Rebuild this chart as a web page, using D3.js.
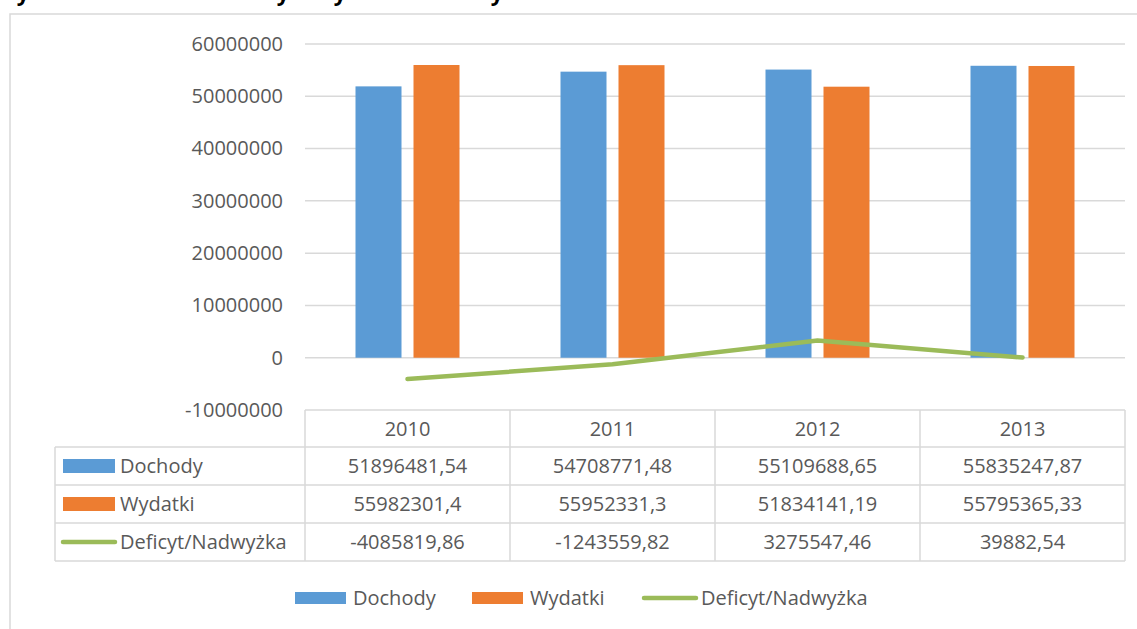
<!DOCTYPE html>
<html>
<head>
<meta charset="utf-8">
<script src="https://cdn.jsdelivr.net/npm/d3@7"></script>
<style>
  body { margin: 0; background: #fff; }
  svg text { font-family: "Open Sans", sans-serif; fill: #595959; }
</style>
</head>
<body>
<svg id="chart" width="1137" height="629"></svg>
<script>
// dane z wykresu
var years = ["2010", "2011", "2012", "2013"];
var dochody = [51896481.54, 54708771.48, 55109688.65, 55835247.87];
var wydatki = [55982301.4, 55952331.3, 51834141.19, 55795365.33];
var deficyt = [-4085819.86, -1243559.82, 3275547.46, 39882.54];
var seriesNames = ["Dochody", "Wydatki", "Deficyt/Nadwyżka"];
var yTicks = [-10000000, 0, 10000000, 20000000, 30000000, 40000000, 50000000, 60000000];

var colors = ["#5B9BD5", "#ED7D31", "#9BBB59"];
var width = 1137, height = 629;
var fontSize = 20;

var svg = d3.select("#chart");

// obramowanie wykresu (ucięte z prawej i od dołu)
svg.append("rect")
  .attr("x", 10).attr("y", 14)
  .attr("width", 1140).attr("height", 640)
  .attr("fill", "none")
  .attr("stroke", "#d9d9d9")
  .attr("stroke-width", 1.5);

// ucięty tytuł nad wykresem - widać tylko ogonki liter
svg.append("g").selectAll("text")
  .data([23, 283, 340, 497])
  .enter()
  .append("text")
  .attr("x", function(d){ return d; })
  .attr("y", 1)
  .style("font-weight", "bold")
  .style("fill", "#000")
  .style("font-size", "22px")
  .attr("text-anchor", "middle")
  .text("y");

var x = d3.scaleBand()
  .domain(years)
  .range([305, 1125]);

var y = d3.scaleLinear()
  .domain([-10000000, 60000000])
  .range([410, 44]);

// siatka
svg.append("g").selectAll("line")
  .data(yTicks)
  .enter()
  .append("line")
  .attr("x1", 305).attr("x2", 1125)
  .attr("y1", function(d){ return y(d); })
  .attr("y2", function(d){ return y(d); })
  .attr("stroke", "#d9d9d9")
  .attr("stroke-width", 1.5);

// etykiety osi Y
var yAxis = d3.axisLeft(y).tickValues(yTicks).tickSize(0).tickPadding(0)
  .tickFormat(function(d){ return String(d); });
var yg = svg.append("g").attr("transform", "translate(283,0)").call(yAxis);
yg.select(".domain").remove();
yg.selectAll("text")
  .style("font-size", fontSize + "px")
  .style("font-family", "'Open Sans', sans-serif")
  .attr("fill", "#595959");

// słupki
var barW = 46, gap = 12;
var barData = [];
years.forEach(function(yr, i){
  barData.push({ year: yr, s: 0, v: dochody[i] });
  barData.push({ year: yr, s: 1, v: wydatki[i] });
});

svg.append("g").selectAll("rect")
  .data(barData)
  .enter()
  .append("rect")
  .attr("x", function(d){
    var c = x(d.year) + x.bandwidth() / 2;
    return d.s === 0 ? c - gap / 2 - barW : c + gap / 2;
  })
  .attr("y", function(d){ return y(d.v); })
  .attr("width", barW)
  .attr("height", function(d){ return y(0) - y(d.v); })
  .attr("fill", function(d){ return colors[d.s]; });

// linia deficytu
var line = d3.line()
  .x(function(d, i){ return x(years[i]) + x.bandwidth() / 2; })
  .y(function(d){ return y(d); });

svg.append("path")
  .datum(deficyt)
  .attr("d", line)
  .attr("fill", "none")
  .attr("stroke", colors[2])
  .attr("stroke-width", 4.5)
  .attr("stroke-linecap", "round")
  .attr("stroke-linejoin", "round");

// tabela danych
var tableTop = 410, rowH = 38;
var rows = [dochody, wydatki, deficyt];
var tg = svg.append("g").attr("class", "table");
var lineColor = "#d9d9d9";

// poziome linie
[1, 2, 3, 4].forEach(function(r){
  tg.append("line")
    .attr("x1", 55).attr("x2", 1125)
    .attr("y1", tableTop + r * rowH - 1).attr("y2", tableTop + r * rowH - 1)
    .attr("stroke", lineColor).attr("stroke-width", 1.5);
});
// pionowe linie
years.forEach(function(yr){
  tg.append("line")
    .attr("x1", x(yr)).attr("x2", x(yr))
    .attr("y1", tableTop).attr("y2", tableTop + 4 * rowH - 1)
    .attr("stroke", lineColor).attr("stroke-width", 1.5);
});
tg.append("line")
  .attr("x1", 1125).attr("x2", 1125)
  .attr("y1", tableTop).attr("y2", tableTop + 4 * rowH - 1)
  .attr("stroke", lineColor).attr("stroke-width", 1.5);
tg.append("line")
  .attr("x1", 55).attr("x2", 55)
  .attr("y1", tableTop + rowH - 1).attr("y2", tableTop + 4 * rowH - 1)
  .attr("stroke", lineColor).attr("stroke-width", 1.5);

// nagłówki lat
tg.selectAll(".yearlbl")
  .data(years)
  .enter()
  .append("text")
  .attr("class", "yearlbl")
  .attr("x", function(d){ return x(d) + x.bandwidth() / 2; })
  .attr("y", tableTop + rowH / 2)
  .attr("dy", "0.35em")
  .attr("text-anchor", "middle")
  .style("font-size", fontSize + "px")
  .text(function(d){ return d; });

// wiersze z wartościami
rows.forEach(function(vals, r){
  var cy = tableTop + (r + 1) * rowH + rowH / 2 - 1;
  tg.selectAll(".val" + r)
    .data(vals)
    .enter()
    .append("text")
    .attr("class", "val" + r)
    .attr("x", function(d, i){ return x(years[i]) + x.bandwidth() / 2; })
    .attr("y", cy)
    .attr("dy", "0.35em")
    .attr("text-anchor", "middle")
    .style("font-size", fontSize + "px")
    .text(function(d){ return String(d).replace(".", ","); });

  // klucz legendy w tabeli
  if (r < 2) {
    tg.append("rect")
      .attr("x", 63).attr("y", cy - 7)
      .attr("width", 52).attr("height", 14)
      .attr("fill", colors[r]);
  } else {
    tg.append("line")
      .attr("x1", 63).attr("x2", 115)
      .attr("y1", cy).attr("y2", cy)
      .attr("stroke", colors[r]).attr("stroke-width", 4.5)
      .attr("stroke-linecap", "round");
  }
  tg.append("text")
    .attr("x", 120).attr("y", cy)
    .attr("dy", "0.35em")
    .style("font-size", fontSize + "px")
    .text(seriesNames[r]);
});

// legenda na dole
var legendX = [295, 472, 642];
var legendY = 598;
var lg = svg.append("g").attr("class", "legend");
seriesNames.forEach(function(name, i){
  if (i < 2) {
    lg.append("rect")
      .attr("x", legendX[i]).attr("y", legendY - 6)
      .attr("width", 51).attr("height", 12)
      .attr("fill", colors[i]);
  } else {
    lg.append("line")
      .attr("x1", legendX[i] + 2).attr("x2", legendX[i] + 54)
      .attr("y1", legendY).attr("y2", legendY)
      .attr("stroke", colors[i]).attr("stroke-width", 4.5)
      .attr("stroke-linecap", "round");
  }
  lg.append("text")
    .attr("x", legendX[i] + (i < 2 ? 58 : 59))
    .attr("y", legendY)
    .attr("dy", "0.35em")
    .style("font-size", fontSize + "px")
    .text(name);
});
</script>
</body>
</html>
